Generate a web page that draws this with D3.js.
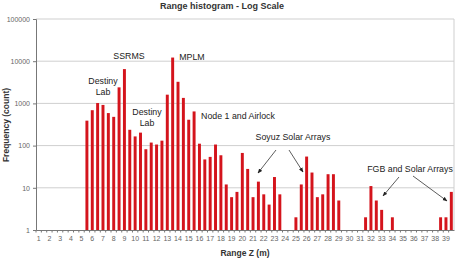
<!DOCTYPE html>
<html>
<head>
<meta charset="utf-8">
<script src="https://cdn.jsdelivr.net/npm/d3@7"></script>
<style>
  body { margin: 0; background: #fff; }
  text { font-family: "Liberation Sans", Arial, sans-serif; }
</style>
</head>
<body>
<div id="chart"></div>
<script>
// range bins (m), every 0.5 m
const categories = [1, 1.5, 2, 2.5, 3, 3.5, 4, 4.5, 5, 5.5, 6, 6.5, 7, 7.5, 8, 8.5, 9, 9.5,
  10, 10.5, 11, 11.5, 12, 12.5, 13, 13.5, 14, 14.5, 15, 15.5, 16, 16.5, 17, 17.5, 18, 18.5,
  19, 19.5, 20, 20.5, 21, 21.5, 22, 22.5, 23, 23.5, 24, 24.5, 25, 25.5, 26, 26.5, 27, 27.5,
  28, 28.5, 29, 29.5, 30, 30.5, 31, 31.5, 32, 32.5, 33, 33.5, 34, 34.5, 35, 35.5, 36, 36.5,
  37, 37.5, 38, 38.5, 39, 39.5];
const counts = [0, 0, 0, 0, 0, 0, 0, 0, 0, 390, 690, 1020, 920, 590, 480, 2400, 6500, 237,
  165, 203, 82, 118, 106, 131, 1610, 12200, 3250, 1350, 410, 645, 111, 47, 54, 106, 59, 12,
  6, 8, 67, 28, 6, 14, 7, 4, 18, 7, 0, 0, 2, 12, 55, 23, 6, 7,
  21, 21, 5, 0, 0, 0, 0, 2, 11, 5, 3, 0, 2, 0, 0, 0, 0, 0,
  0, 0, 0, 2, 2, 8];
const xTickLabels = [1, 2, 3, 4, 5, 6, 7, 8, 9, 10, 11, 12, 13, 14, 15, 16, 17, 18, 19, 20,
  21, 22, 23, 24, 25, 26, 27, 28, 29, 30, 31, 32, 33, 34, 35, 36, 37, 38, 39];
const yTicks = [1, 10, 100, 1000, 10000, 100000];

const annotations = [
  { lines: ["SSRMS"], x: 129, y: 56 },
  { lines: ["Destiny", "Lab"], x: 103, y: 81 },
  { lines: ["Destiny", "Lab"], x: 147, y: 112 },
  { lines: ["MPLM"], x: 192, y: 57 },
  { lines: ["Node 1 and Airlock"], x: 238, y: 116 },
  { lines: ["Soyuz Solar Arrays"], x: 293, y: 137 },
  { lines: ["FGB and Solar Arrays"], x: 410, y: 169 }
];
// callout arrows: [from x, from y, to x, to y]
const arrows = [
  [276, 150, 258, 173],
  [289, 150, 303, 172],
  [399, 177, 383, 196],
  [413, 176, 447, 201]
];

const width = 457;
const height = 258;
const margin = { top: 19, right: 3, bottom: 28, left: 36 };

const svg = d3.select("#chart").append("svg")
  .attr("width", width)
  .attr("height", height);

const x = d3.scaleBand()
  .domain(categories)
  .range([margin.left, width - margin.right])
  .paddingInner(0.45)
  .paddingOuter(0.225);
const y = d3.scaleLog()
  .domain([1, 100000])
  .range([height - margin.bottom, margin.top]);

// gridlines
svg.append("g").selectAll("line").data(yTicks.slice(1))
  .enter().append("line")
  .attr("x1", margin.left).attr("x2", width - margin.right)
  .attr("y1", d => y(d)).attr("y2", d => y(d))
  .attr("stroke", "#cfcfcf").attr("stroke-width", 1);
svg.append("line")
  .attr("x1", width - margin.right).attr("x2", width - margin.right)
  .attr("y1", margin.top).attr("y2", height - margin.bottom)
  .attr("stroke", "#cfcfcf");

// bars
svg.append("g").selectAll("rect")
  .data(categories.map((c, i) => ({ c: c, v: counts[i] })).filter(d => d.v > 0))
  .enter().append("rect")
  .attr("x", d => x(d.c))
  .attr("width", x.bandwidth())
  .attr("y", d => y(d.v))
  .attr("height", d => y(1) - y(d.v))
  .attr("fill", "#d4141c");

// axes
const yAxis = d3.axisLeft(y).tickValues(yTicks).tickFormat(d3.format("d")).tickSize(3);
svg.append("g")
  .attr("transform", `translate(${margin.left},0)`)
  .call(yAxis)
  .call(g => g.select(".domain").attr("stroke", "#777"))
  .call(g => g.selectAll(".tick line").attr("stroke", "#777"))
  .call(g => g.selectAll("text").attr("font-size", 7).attr("fill", "#666")
    .attr("font-family", "Liberation Sans, Arial, sans-serif"));

const xAxis = d3.axisBottom(x).tickValues(xTickLabels).tickSize(0).tickPadding(6);
svg.append("g")
  .attr("transform", `translate(0,${height - margin.bottom})`)
  .call(xAxis)
  .call(g => g.select(".domain").attr("stroke", "#777"))
  .call(g => g.selectAll("text").attr("font-size", 7).attr("fill", "#666")
    .attr("font-family", "Liberation Sans, Arial, sans-serif"));

// tick marks between bins
const step = x.step();
svg.append("g").selectAll("line").data(categories)
  .enter().append("line")
  .attr("x1", d => x(d) - step * 0.225)
  .attr("x2", d => x(d) - step * 0.225)
  .attr("y1", height - margin.bottom)
  .attr("y2", height - margin.bottom + 2.5)
  .attr("stroke", "#777");

// titles
svg.append("text")
  .attr("x", 222).attr("y", 9)
  .attr("text-anchor", "middle")
  .attr("font-size", 9).attr("font-weight", "bold").attr("fill", "#333")
  .text("Range histogram - Log Scale");
svg.append("text")
  .attr("x", 245).attr("y", 256)
  .attr("text-anchor", "middle")
  .attr("font-size", 8.5).attr("font-weight", "bold").attr("fill", "#333")
  .text("Range Z (m)");
svg.append("text")
  .attr("transform", "translate(9,125) rotate(-90)")
  .attr("text-anchor", "middle")
  .attr("font-size", 8.5).attr("font-weight", "bold").attr("fill", "#333")
  .text("Frequency (count)");

// annotations
const notes = svg.append("g");
annotations.forEach(a => {
  a.lines.forEach((line, i) => {
    notes.append("text")
      .attr("x", a.x).attr("y", a.y + i * 11)
      .attr("dy", "0.35em")
      .attr("text-anchor", "middle")
      .attr("font-size", 8.8).attr("fill", "#222")
      .text(line);
  });
});

svg.append("defs").append("marker")
  .attr("id", "arrow")
  .attr("viewBox", "0 0 10 10")
  .attr("refX", 9).attr("refY", 5)
  .attr("markerWidth", 6).attr("markerHeight", 6)
  .attr("orient", "auto")
  .append("path").attr("d", "M0,1L10,5L0,9z").attr("fill", "#222");

svg.append("g").selectAll("line").data(arrows)
  .enter().append("line")
  .attr("x1", d => d[0]).attr("y1", d => d[1])
  .attr("x2", d => d[2]).attr("y2", d => d[3])
  .attr("stroke", "#333").attr("stroke-width", 0.8)
  .attr("marker-end", "url(#arrow)");
</script>
</body>
</html>
